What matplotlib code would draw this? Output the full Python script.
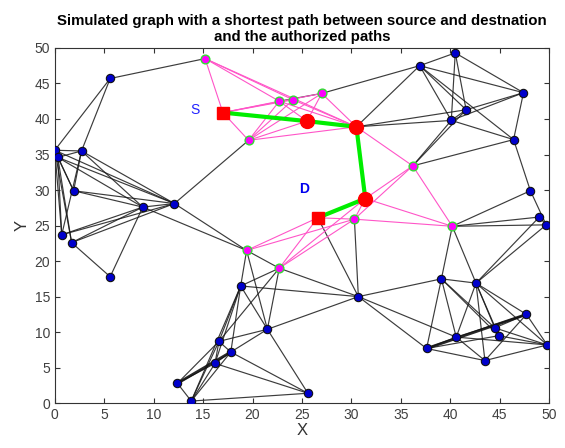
#!/usr/bin/env python3
# -*- coding: utf-8 -*-
"""
Simulated graph with shortest path (S -> D) and authorized paths
"""
import numpy as np
import matplotlib
matplotlib.use("Agg")
import matplotlib.pyplot as plt

plt.rcParams['font.family'] = ['Liberation Sans', 'DejaVu Sans']

# ---- node positions ----
blue_names = ["b1", "b2", "b3", "b4", "b5", "b6", "b7", "b8", "b9", "b10",
              "b11", "b12", "b13", "b14", "b15", "b16", "b17", "b18", "b19",
              "b20", "b21", "b22", "b23", "b24", "b25", "b26", "b27", "b28",
              "b29", "b30", "b31", "b32", "b33", "b34", "b35", "b36", "b37"]
blue_x = [5.6, 0.0, 0.3, 2.7, 1.9, 0.7, 1.7, 8.9, 12.1, 5.6,
          18.8, 21.5, 16.6, 17.8, 16.2, 12.4, 13.8, 25.6, 30.7,
          36.9, 40.5, 47.4, 41.6, 40.1, 46.4, 48.1, 49.0, 49.7,
          39.1, 42.6, 47.7, 44.5, 44.9, 40.6, 49.8, 37.6, 43.5]
blue_y = [45.7, 35.6, 34.6, 35.5, 29.9, 23.7, 22.6, 27.6, 28.1, 17.8,
          16.5, 10.4, 8.7, 7.2, 5.6, 2.8, 0.3, 1.4, 15.0,
          47.5, 49.3, 43.7, 41.3, 39.8, 37.1, 29.9, 26.2, 25.1,
          17.5, 16.9, 12.5, 10.6, 9.5, 9.3, 8.2, 7.7, 6.0]

auth_names = ["m1", "m2", "m3", "m4", "m5", "m6", "m7", "m8", "m9", "m10"]
auth_x = [15.2, 22.7, 24.1, 27.0, 19.6, 36.2, 30.3, 40.2, 19.4, 22.7]
auth_y = [48.5, 42.5, 42.7, 43.6, 37.0, 33.4, 25.9, 24.9, 21.5, 19.0]

path_names = ["S", "r1", "r2", "r3", "D"]
path_x = [17.0, 25.5, 30.5, 31.4, 26.6]
path_y = [40.9, 39.7, 38.9, 28.8, 26.1]

# ---- edges ----
black_edges = [
    ("b1", "m1"), ("b1", "b2"), ("b1", "b4"),
    ("b2", "b3"), ("b2", "b4"), ("b3", "b4"), ("b2", "b5"), ("b3", "b5"),
    ("b2", "b6"), ("b2", "b7"), ("b3", "b6"), ("b3", "b7"), ("b4", "b6"),
    ("b4", "b5"), ("b2", "b9"), ("b3", "b8"), ("b3", "b9"), ("b4", "b8"),
    ("b4", "b9"), ("b5", "b8"), ("b5", "b9"), ("b6", "b8"), ("b7", "b8"),
    ("b7", "b9"), ("b6", "b9"), ("b10", "b7"), ("b10", "b8"), ("b8", "b9"),
    ("b9", "m5"), ("b9", "m9"), ("b8", "m9"),
    ("m4", "b20"), ("m2", "m4"), ("r2", "b20"), ("r2", "b23"), ("r2", "b24"),
    ("b20", "b21"), ("b20", "b23"), ("b20", "b24"), ("b20", "b25"), ("b20", "b22"),
    ("b21", "b22"), ("b21", "b23"), ("b21", "b24"),
    ("b22", "b23"), ("b22", "b24"), ("b22", "b25"),
    ("b23", "b24"), ("b24", "b25"),
    ("m6", "b23"), ("m6", "b24"), ("m6", "b25"),
    ("b25", "b26"), ("b26", "m8"), ("b26", "b28"), ("b27", "m8"), ("b28", "m8"),
    ("b27", "b28"), ("b27", "b30"), ("b28", "b30"),
    ("m8", "b29"), ("m8", "b30"),
    ("D", "b19"), ("m7", "b19"),
    ("m9", "b11"), ("m9", "b12"), ("m9", "m10"), ("m10", "b11"), ("m10", "b12"),
    ("m10", "b13"), ("m10", "b19"),
    ("b11", "b19"), ("b11", "b12"), ("b11", "b13"), ("b11", "b14"), ("b11", "b15"),
    ("b11", "b17"),
    ("b12", "b19"), ("b12", "b13"), ("b12", "b14"), ("b12", "b18"),
    ("b13", "b14"), ("b13", "b16"), ("b13", "b17"), ("b13", "b15"),
    ("b14", "b17"), ("b14", "b18"), ("b14", "b15"),
    ("b15", "b16"), ("b15", "b17"), ("b15", "b18"),
    ("b16", "b17"), ("b17", "b18"),
    ("b19", "b29"), ("b19", "b34"), ("b19", "b36"),
    ("b29", "b30"), ("b29", "b36"), ("b29", "b34"), ("b29", "b32"), ("b29", "b33"),
    ("b30", "b31"), ("b30", "b32"), ("b30", "b33"), ("b30", "b37"), ("b30", "b34"),
    ("b30", "b35"),
    ("b36", "b34"), ("b36", "b37"), ("b36", "b33"),
    ("b31", "b35"), ("b31", "b37"), ("b31", "b34"), ("b31", "b32"),
    ("b32", "b35"), ("b33", "b35"), ("b34", "b35"), ("b37", "b35"), ("b34", "b37"),
    ("b32", "b33"),
]
thick_edges = [("b36", "b31"), ("b14", "b16")]

pink_edges = [
    ("S", "m1"), ("S", "m2"), ("S", "m3"), ("S", "m4"), ("S", "m5"),
    ("m1", "m2"), ("m1", "m3"), ("m1", "r2"),
    ("m5", "m2"), ("m5", "m3"), ("m5", "m4"), ("m5", "r1"), ("m5", "r2"),
    ("m2", "r2"), ("m3", "r2"), ("m4", "r2"), ("m2", "r1"), ("m4", "r1"),
    ("r2", "m6"),
    ("r3", "m6"), ("r3", "m7"), ("r3", "m8"), ("m6", "m7"), ("m6", "m8"), ("m7", "m8"),
    ("D", "m7"), ("D", "m9"), ("D", "m10"), ("m7", "m9"), ("m7", "m10"), ("r3", "m10"),
]
shortest_path = ["S", "r1", "r2", "r3", "D"]

pos = {}
for names, xs, ys in [(blue_names, blue_x, blue_y), (auth_names, auth_x, auth_y),
                      (path_names, path_x, path_y)]:
    for n, x, y in zip(names, xs, ys):
        pos[n] = (x, y)


def draw_edges(ax, edges, **kw):
    for a, b in edges:
        ax.plot([pos[a][0], pos[b][0]], [pos[a][1], pos[b][1]], **kw)


fig = plt.figure(figsize=(5.65, 4.48), dpi=100)
ax = fig.add_axes([0.097, 0.100, 0.875, 0.793])

draw_edges(ax, black_edges, color="#1a1a1a", lw=0.85, alpha=0.85, zorder=1)
draw_edges(ax, thick_edges, color="#111111", lw=2.0, alpha=0.9, zorder=1)
draw_edges(ax, pink_edges, color="#ff55c8", lw=0.8, zorder=2)

px = [pos[n][0] for n in shortest_path]
py = [pos[n][1] for n in shortest_path]
ax.plot(px, py, color="#00ee00", lw=3, zorder=3, solid_capstyle="round")

ax.plot(blue_x, blue_y, "o", ms=6.0, mfc="#0000cc", mec="#111111", mew=0.8,
        ls="none", zorder=4)
ax.plot(auth_x, auth_y, "o", ms=6.3, mfc="#ff00ff", mec="#33dd33", mew=1.0,
        ls="none", zorder=4)
ax.plot(path_x[1:4], path_y[1:4], "o", ms=10, mfc="red", mec="red",
        ls="none", zorder=5)
ax.plot([path_x[0], path_x[4]], [path_y[0], path_y[4]], "s", ms=8.5,
        mfc="red", mec="red", ls="none", zorder=5)

ax.text(14.2, 41.3, "S", color="#2222ff", fontsize=10, ha="center", va="center")
ax.text(25.2, 30.1, "D", color="#0000ee", fontsize=10, fontweight="bold",
        ha="center", va="center")

ax.set_xlim(0, 50)
ax.set_ylim(0, 50)
ax.set_xticks(np.arange(0, 51, 5))
ax.set_yticks(np.arange(0, 51, 5))
ax.tick_params(direction="in", top=True, right=True, length=3.5,
               labelsize=10, labelcolor="#404040", color="#333333")
for s in ax.spines.values():
    s.set_color("#333333")
    s.set_linewidth(0.8)
ax.set_xlabel("X", fontsize=12, color="#333333", labelpad=1)
ax.set_ylabel("Y", fontsize=12, color="#333333", labelpad=3)
ax.set_title("Simulated graph with a shortest path between source and destnation\n"
             "and the authorized paths", fontsize=10.8, fontweight="bold", pad=5)

fig.savefig("out.png", dpi=100)
